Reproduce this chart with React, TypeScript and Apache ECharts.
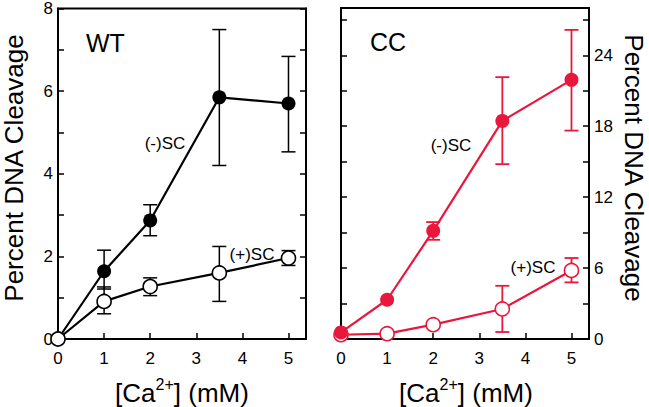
import React, { useEffect, useRef } from "react";
import * as echarts from "echarts";

const xVals = [0, 1, 2, 3.5, 5];

const wtMinusY = [0, 1.64, 2.87, 5.85, 5.7];
const wtMinusLow = [null, 1.21, 2.5, 4.2, 4.53];
const wtMinusHigh = [null, 2.15, 3.25, 7.49, 6.84];
const wtPlusY = [0, 0.91, 1.27, 1.6, 1.96];
const wtPlusLow = [null, 0.61, 1.05, 0.91, 1.78];
const wtPlusHigh = [null, 1.26, 1.48, 2.24, 2.14];

const ccMinusY = [0.56, 3.32, 9.15, 18.45, 21.92];
const ccMinusLow = [null, null, 8.39, 14.79, 17.63];
const ccMinusHigh = [null, null, 9.89, 22.15, 26.15];
const ccPlusY = [0.36, 0.45, 1.21, 2.54, 5.8];
const ccPlusLow = [null, null, null, 0.59, 4.79];
const ccPlusHigh = [null, null, null, 4.5, 6.85];

const xTickLabels = ["0", "1", "2", "3", "4", "5"];
const wtYTickLabels = ["0", "2", "4", "6", "8"];
const ccYTickLabels = ["0", "6", "12", "18", "24"];

const BLACK = "#000000";
const RED = "#e8173c";
const FONT = "'Liberation Sans', Arial, sans-serif";

function pts(ys: number[]) {
  return xVals.map((x, i) => [x, ys[i]]);
}
function errs(lo: (number | null)[], hi: (number | null)[]) {
  const out: number[][] = [];
  xVals.forEach((x, i) => {
    if (lo[i] != null && hi[i] != null) out.push([x, lo[i] as number, hi[i] as number]);
  });
  return out;
}

function errSeries(idx: number, data: number[][], color: string, lw: number) {
  return {
    type: "custom",
    xAxisIndex: idx,
    yAxisIndex: idx * 2,
    z: 1,
    clip: false,
    encode: { x: 0, y: [1, 2] },
    data,
    renderItem: (params: any, api: any) => {
      const x = api.value(0);
      const pLo = api.coord([x, api.value(1)]);
      const pHi = api.coord([x, api.value(2)]);
      const hw = 7;
      const st = { stroke: color, lineWidth: lw };
      return {
        type: "group",
        children: [
          { type: "line", shape: { x1: pLo[0], y1: pLo[1], x2: pHi[0], y2: pHi[1] }, style: st },
          { type: "line", shape: { x1: pLo[0] - hw, y1: pLo[1], x2: pLo[0] + hw, y2: pLo[1] }, style: st },
          { type: "line", shape: { x1: pHi[0] - hw, y1: pHi[1], x2: pHi[0] + hw, y2: pHi[1] }, style: st },
        ],
      };
    },
  };
}

function lineSeries(idx: number, ys: number[], color: string, filled: boolean, z: number) {
  return {
    type: "line",
    xAxisIndex: idx,
    yAxisIndex: idx * 2,
    data: pts(ys),
    clip: false,
    z,
    symbol: "circle",
    symbolSize: 14,
    lineStyle: { color, width: 2.2 },
    itemStyle: filled
      ? { color, borderColor: color, borderWidth: 0 }
      : { color: "#ffffff", borderColor: color, borderWidth: 1.6 },
  };
}

function xAxis(idx: number) {
  return {
    type: "value",
    gridIndex: idx,
    min: 0,
    max: 5.38,
    interval: 1,
    axisLine: { show: true, onZero: false, lineStyle: { color: BLACK, width: 2 } },
    axisTick: { show: true, inside: true, length: 6, lineStyle: { color: BLACK, width: 1.5 } },
    axisLabel: {
      show: true,
      color: BLACK,
      fontSize: 17,
      fontFamily: FONT,
      margin: 11,
      showMaxLabel: false,
      formatter: (v: number) => (Number.isInteger(v) ? xTickLabels[v] ?? "" : ""),
    },
    splitLine: { show: false },
  };
}

function yAxis(idx: number, max: number, interval: number, position: string, labels: string[] | null, step: number) {
  return {
    type: "value",
    gridIndex: idx,
    min: 0,
    max,
    interval,
    position,
    axisLine: { show: true, onZero: false, lineStyle: { color: BLACK, width: 2 } },
    axisTick: { show: true, inside: true, length: 6, lineStyle: { color: BLACK, width: 1.5 } },
    axisLabel: {
      show: labels != null,
      color: BLACK,
      fontSize: 17,
      fontFamily: FONT,
      margin: 5,
      showMaxLabel: true,
      formatter: (v: number) => {
        if (!labels) return "";
        const k = Math.round(v / step);
        if (Math.abs(v - k * step) > 1e-6) return "";
        return labels[k] ?? "";
      },
    },
    splitLine: { show: false },
  };
}

export default function App() {
  const ref = useRef<HTMLDivElement>(null);
  useEffect(() => {
    if (!ref.current) return;
    const chart = echarts.init(ref.current, null, { renderer: "svg" });
    const titleRich = {
      base: { fontSize: 26, fontFamily: FONT, fill: BLACK, lineHeight: 30, verticalAlign: "bottom" },
      sup: { fontSize: 16, fontFamily: FONT, fill: BLACK, lineHeight: 16, verticalAlign: "top" },
    };
    const xTitle = "{base|[Ca}{sup|2+}{base|] (mM)}";
    chart.setOption({
      animation: false,
      backgroundColor: "#ffffff",
      textStyle: { fontFamily: FONT },
      grid: [
        { left: 58, top: 8, width: 248, height: 331, show: true, borderColor: BLACK, borderWidth: 2, backgroundColor: "transparent" },
        { left: 341, top: 8, width: 248, height: 331, show: true, borderColor: BLACK, borderWidth: 2, backgroundColor: "transparent" },
      ],
      xAxis: [xAxis(0), xAxis(1)],
      yAxis: [
        yAxis(0, 8, 1, "left", wtYTickLabels, 2),
        yAxis(0, 8, 1, "right", null, 2),
        yAxis(1, 28, 3, "right", ccYTickLabels, 6),
        yAxis(1, 28, 3, "left", null, 6),
      ],
      series: [
        errSeries(0, errs(wtMinusLow, wtMinusHigh), BLACK, 1.5),
        errSeries(0, errs(wtPlusLow, wtPlusHigh), BLACK, 1.5),
        lineSeries(0, wtMinusY, BLACK, true, 3),
        lineSeries(0, wtPlusY, BLACK, false, 4),
        errSeries(1, errs(ccMinusLow, ccMinusHigh), RED, 1.8),
        errSeries(1, errs(ccPlusLow, ccPlusHigh), RED, 1.8),
        lineSeries(1, ccPlusY, RED, false, 3),
        lineSeries(1, ccMinusY, RED, true, 4),
      ],
      graphic: [
        { type: "text", x: 86, y: 43, style: { text: "WT", font: `25px ${FONT}`, fill: BLACK, textAlign: "left", textVerticalAlign: "middle" } },
        { type: "text", x: 370, y: 42, style: { text: "CC", font: `25px ${FONT}`, fill: BLACK, textAlign: "left", textVerticalAlign: "middle" } },
        { type: "text", x: 165, y: 143, style: { text: "(-)SC", font: `17px ${FONT}`, fill: BLACK, textAlign: "center", textVerticalAlign: "middle" } },
        { type: "text", x: 252, y: 254, style: { text: "(+)SC", font: `17px ${FONT}`, fill: BLACK, textAlign: "center", textVerticalAlign: "middle" } },
        { type: "text", x: 451, y: 145, style: { text: "(-)SC", font: `17px ${FONT}`, fill: BLACK, textAlign: "center", textVerticalAlign: "middle" } },
        { type: "text", x: 533, y: 267, style: { text: "(+)SC", font: `17px ${FONT}`, fill: BLACK, textAlign: "center", textVerticalAlign: "middle" } },
        { type: "text", x: 13.5, y: 168, rotation: Math.PI / 2, style: { text: "Percent DNA Cleavage", font: `26px ${FONT}`, fill: BLACK, textAlign: "center", textVerticalAlign: "middle" } },
        { type: "text", x: 634, y: 168, rotation: -Math.PI / 2, style: { text: "Percent DNA Cleavage", font: `26px ${FONT}`, fill: BLACK, textAlign: "center", textVerticalAlign: "middle" } },
        { type: "text", x: 182, y: 391, style: { text: xTitle, fill: BLACK, textAlign: "center", textVerticalAlign: "middle", rich: titleRich } },
        { type: "text", x: 466, y: 391, style: { text: xTitle, fill: BLACK, textAlign: "center", textVerticalAlign: "middle", rich: titleRich } },
      ],
    });
    return () => chart.dispose();
  }, []);
  return <div ref={ref} style={{ position: "fixed", left: 0, top: 0, width: 649, height: 407 }} />;
}
